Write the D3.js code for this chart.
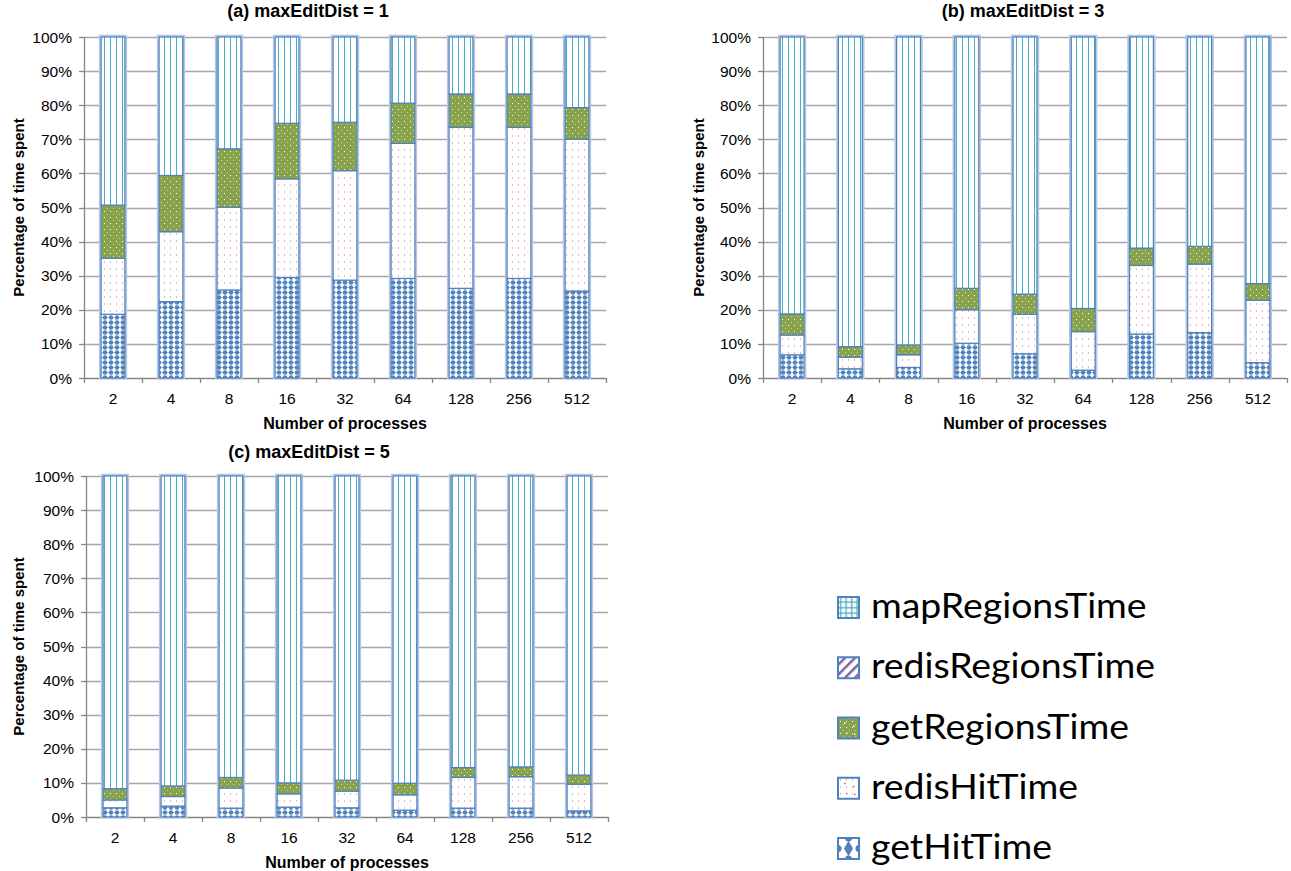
<!DOCTYPE html>
<html>
<head>
<meta charset="UTF-8">
<title>Time breakdown by maxEditDist</title>
<script src="https://d3js.org/d3.v7.min.js"></script>
<style>
  body { margin: 0; background: #fff; }
  svg { display: block; font-family: 'Liberation Sans', Arial, sans-serif; }
  .tick-label { font-size: 15.5px; fill: #000; }
  .axis-title { font-size: 16px; font-weight: bold; fill: #000; }
  .chart-title { font-size: 18px; font-weight: bold; fill: #000; }
  .legend-text { font-family: Lato, 'Open Sans', sans-serif; font-size: 34px; fill: #000; }
</style>
</head>
<body>
<svg id="chart" width="1291" height="871"></svg>
<script>
const processes = ["2", "4", "8", "16", "32", "64", "128", "256", "512"];
const yTicks = [0, 10, 20, 30, 40, 50, 60, 70, 80, 90, 100];
const seriesNames = ["getHitTime", "redisHitTime", "getRegionsTime", "redisRegionsTime", "mapRegionsTime"];
const legendOrder = ["mapRegionsTime", "redisRegionsTime", "getRegionsTime", "redisHitTime", "getHitTime"];

// (a) maxEditDist = 1
const getHitA      = [18.7, 22.4, 25.8, 29.5, 28.7, 29.2, 26.3, 29.2, 25.5];
const redisHitA    = [16.4, 20.5, 24.3, 28.9, 32.1, 39.6, 47.2, 44.3, 44.5];
const getRegionsA  = [15.6, 16.5, 17.1, 16.3, 14.2, 11.8,  9.8,  9.8,  9.3];
const redisRegA    = [0, 0, 0, 0, 0, 0, 0, 0, 0];
const mapRegionsA  = [49.3, 40.6, 32.8, 25.3, 25.0, 19.4, 16.7, 16.7, 20.7];

// (b) maxEditDist = 3
const getHitB      = [6.8, 2.7, 3.1, 10.2, 7.1, 2.3, 12.9, 13.3, 4.5];
const redisHitB    = [5.8, 3.4, 3.7,  9.8, 11.6, 11.3, 20.1, 20.1, 18.3];
const getRegionsB  = [6.2, 3.1, 2.9,  6.3, 5.9, 6.8, 5.1, 5.2, 4.9];
const redisRegB    = [0, 0, 0, 0, 0, 0, 0, 0, 0];
const mapRegionsB  = [81.2, 90.8, 90.3, 73.7, 75.4, 79.6, 61.9, 61.4, 72.3];

// (c) maxEditDist = 5
const getHitC      = [2.7, 3.2, 2.6, 2.9, 2.7, 2.0, 2.6, 2.6, 1.8];
const redisHitC    = [2.3, 2.8, 5.9, 3.9, 4.9, 4.5, 9.0, 9.2, 7.8];
const getRegionsC  = [3.3, 3.1, 3.1, 3.2, 3.2, 3.4, 2.9, 2.9, 2.7];
const redisRegC    = [0, 0, 0, 0, 0, 0, 0, 0, 0];
const mapRegionsC  = [91.7, 90.9, 88.4, 90.0, 89.2, 90.1, 85.5, 85.3, 87.7];

const panels = [
  { title: "(a) maxEditDist = 1", series: [getHitA, redisHitA, getRegionsA, redisRegA, mapRegionsA],
    x0: 84, x1: 606, yTop: 37, yBot: 378, titleX: 308, titleY: 17, yTitleX: 24 },
  { title: "(b) maxEditDist = 3", series: [getHitB, redisHitB, getRegionsB, redisRegB, mapRegionsB],
    x0: 763, x1: 1287, yTop: 37, yBot: 378, titleX: 1023, titleY: 17, yTitleX: 704 },
  { title: "(c) maxEditDist = 5", series: [getHitC, redisHitC, getRegionsC, redisRegC, mapRegionsC],
    x0: 86, x1: 608, yTop: 476, yBot: 817, titleX: 309, titleY: 458, yTitleX: 24 }
];

const blue = "#4f81bd";
const svg = d3.select("#chart");
const defs = svg.append("defs");

// fill patterns
function pattern(id, w, h, bg) {
  const p = defs.append("pattern").attr("id", id).attr("patternUnits", "userSpaceOnUse")
    .attr("width", w).attr("height", h);
  p.append("rect").attr("width", w).attr("height", h).attr("fill", bg);
  return p;
}
let p = pattern("p-map", 6, 6, "#fff");
p.append("rect").attr("x", 2).attr("y", 0).attr("width", 1).attr("height", 6).attr("fill", "#4bacc6");

p = pattern("p-redisreg", 7, 7, "#fff");
p.attr("patternTransform", "rotate(45)");
p.append("rect").attr("x", 0).attr("y", 0).attr("width", 2.5).attr("height", 7).attr("fill", "#8064a2");

p = pattern("p-getreg", 6, 6, "#89a34c");
p.append("rect").attr("x", 2).attr("y", 1).attr("width", 1).attr("height", 1).attr("fill", "#fff");
p.append("rect").attr("x", 5).attr("y", 4).attr("width", 1).attr("height", 1).attr("fill", "#c4d2a2");

p = pattern("p-redishit", 6, 7, "#fff");
p.append("rect").attr("x", 2).attr("y", 2).attr("width", 1).attr("height", 2).attr("fill", "#e8b7b6");

p = pattern("p-gethit", 6, 5, "#fff");
p.append("circle").attr("cx", 3).attr("cy", 2.5).attr("r", 2.2).attr("fill", blue);
p.append("rect").attr("x", 0).attr("y", 2).attr("width", 6).attr("height", 1).attr("fill", blue).attr("opacity", 0.5);

// legend patterns
p = pattern("l-map", 5.5, 5.5, "#fff");
p.append("rect").attr("x", 2).attr("y", 0).attr("width", 1.3).attr("height", 5.5).attr("fill", "#4bacc6");
p.append("rect").attr("x", 0).attr("y", 2).attr("width", 5.5).attr("height", 1.3).attr("fill", "#4bacc6");

const fills = {
  mapRegionsTime: "url(#p-map)",
  redisRegionsTime: "url(#p-redisreg)",
  getRegionsTime: "url(#p-getreg)",
  redisHitTime: "url(#p-redishit)",
  getHitTime: "url(#p-gethit)"
};
const legendFills = Object.assign({}, fills, { mapRegionsTime: "url(#l-map)", getHitTime: "#fff" });

panels.forEach(function(cfg) {
  const rows = processes.map(function(proc, i) {
    const r = { proc: proc };
    seriesNames.forEach(function(name, k) { r[name] = cfg.series[k][i]; });
    return r;
  });
  const stacked = d3.stack().keys(seriesNames)(rows);

  const x = d3.scaleBand().domain(processes).range([cfg.x0, cfg.x1]).padding(0);
  const y = d3.scaleLinear().domain([0, 100]).range([cfg.yBot, cfg.yTop]);
  const barW = x.bandwidth() * 0.41;
  const g = svg.append("g");

  // gridlines
  g.selectAll(".grid").data(yTicks.filter(function(t) { return t > 0; })).enter().append("line")
    .attr("x1", cfg.x0).attr("x2", cfg.x1)
    .attr("y1", function(d) { return Math.round(y(d)) + 0.5; })
    .attr("y2", function(d) { return Math.round(y(d)) + 0.5; })
    .attr("stroke", "#a6a6a6").attr("stroke-width", 1.3);

  // y axis
  g.append("line").attr("x1", cfg.x0 + 0.5).attr("x2", cfg.x0 + 0.5)
    .attr("y1", cfg.yTop).attr("y2", cfg.yBot).attr("stroke", "#868686").attr("stroke-width", 1.3);
  g.selectAll(".ytick").data(yTicks).enter().append("line")
    .attr("x1", cfg.x0 - 5).attr("x2", cfg.x0)
    .attr("y1", function(d) { return Math.round(y(d)) + 0.5; })
    .attr("y2", function(d) { return Math.round(y(d)) + 0.5; })
    .attr("stroke", "#868686").attr("stroke-width", 1.3);
  g.selectAll(".ylab").data(yTicks).enter().append("text")
    .attr("class", "tick-label")
    .attr("x", cfg.x0 - 12).attr("y", function(d) { return y(d) + 5.5; })
    .attr("text-anchor", "end")
    .text(function(d) { return d + "%"; });

  // x axis
  g.append("line").attr("x1", cfg.x0).attr("x2", cfg.x1)
    .attr("y1", cfg.yBot + 0.5).attr("y2", cfg.yBot + 0.5).attr("stroke", "#868686").attr("stroke-width", 1.3);
  const bounds = processes.map(function(d) { return x(d); }).concat([cfg.x1]);
  g.selectAll(".xtick").data(bounds).enter().append("line")
    .attr("x1", function(d) { return Math.round(d) + 0.5; })
    .attr("x2", function(d) { return Math.round(d) + 0.5; })
    .attr("y1", cfg.yBot).attr("y2", cfg.yBot + 5)
    .attr("stroke", "#868686").attr("stroke-width", 1.3);
  g.selectAll(".xlab").data(processes).enter().append("text")
    .attr("class", "tick-label")
    .attr("x", function(d) { return x(d) + x.bandwidth() / 2; })
    .attr("y", cfg.yBot + 26)
    .attr("text-anchor", "middle")
    .text(function(d) { return d; });

  // bar halo
  g.selectAll(".halo").data(rows).enter().append("rect")
    .attr("x", function(d) { return x(d.proc) + (x.bandwidth() - barW) / 2 - 1; })
    .attr("y", y(100) - 1)
    .attr("width", barW + 2)
    .attr("height", y(0) - y(100) + 1)
    .attr("fill", "none").attr("stroke", "#b4c8e3").attr("stroke-width", 2.5);

  // stacked segments
  stacked.forEach(function(layer) {
    g.selectAll(null).data(layer.filter(function(d) { return d[1] - d[0] > 0; })).enter().append("rect")
      .attr("x", function(d) { return x(d.data.proc) + (x.bandwidth() - barW) / 2; })
      .attr("y", function(d) { return y(d[1]); })
      .attr("width", barW)
      .attr("height", function(d) { return y(d[0]) - y(d[1]); })
      .attr("fill", fills[layer.key])
      .attr("stroke", blue).attr("stroke-width", 1.2);
  });

  // titles
  g.append("text").attr("class", "chart-title")
    .attr("x", cfg.titleX).attr("y", cfg.titleY).attr("text-anchor", "middle").text(cfg.title);
  g.append("text").attr("class", "axis-title")
    .attr("x", (cfg.x0 + cfg.x1) / 2).attr("y", cfg.yBot + 51).attr("text-anchor", "middle")
    .text("Number of processes");
  g.append("text").attr("class", "axis-title")
    .attr("transform", "translate(" + cfg.yTitleX + "," + (cfg.yTop + cfg.yBot) / 2 + ") rotate(-90)")
    .attr("text-anchor", "middle").style("font-size", "15px")
    .text("Percentage of time spent");
});

// legend
const legend = svg.append("g").attr("transform", "translate(838,0)");
const ly = d3.scalePoint().domain(legendOrder).range([607, 848]);
defs.append("clipPath").attr("id", "clip-gethit").append("rect")
  .attr("x", 0).attr("y", ly("getHitTime") - 10).attr("width", 21).attr("height", 21);
legendOrder.forEach(function(name) {
  legend.append("rect")
    .attr("x", 0).attr("y", ly(name) - 10).attr("width", 21).attr("height", 21)
    .attr("fill", legendFills[name]);
  if (name === "getHitTime") {
    const icon = legend.append("g").attr("clip-path", "url(#clip-gethit)");
    icon.append("path")
      .attr("d", d3.symbol().type(d3.symbolDiamond).size(70)())
      .attr("transform", "translate(10.5," + (ly(name) + 0.5) + ")")
      .attr("fill", blue);
    [[0, -10], [0, 11], [-10.5, 0.5], [10.5, 0.5]].forEach(function(pt) {
      icon.append("circle").attr("cx", 10.5 + pt[0]).attr("cy", ly(name) + pt[1]).attr("r", 3.5)
        .attr("fill", blue);
    });
  }
  if (name === "redisHitTime" || name === "getRegionsTime") {
    [[6, 5], [15, 8], [8, 15], [16, 16]].forEach(function(pt) {
      legend.append("rect").attr("x", pt[0]).attr("y", ly(name) - 10 + pt[1]).attr("width", 1.5).attr("height", 1.5)
        .attr("fill", name === "redisHitTime" ? "#e06060" : "#fff");
    });
  }
  legend.append("rect")
    .attr("x", 0).attr("y", ly(name) - 10).attr("width", 21).attr("height", 21)
    .attr("fill", "none").attr("stroke", blue).attr("stroke-width", 2);
  legend.append("text").attr("class", "legend-text")
    .attr("transform", "translate(33," + (ly(name) + 11) + ") scale(1.1,1)")
    .text(name);
});
</script>
</body>
</html>
